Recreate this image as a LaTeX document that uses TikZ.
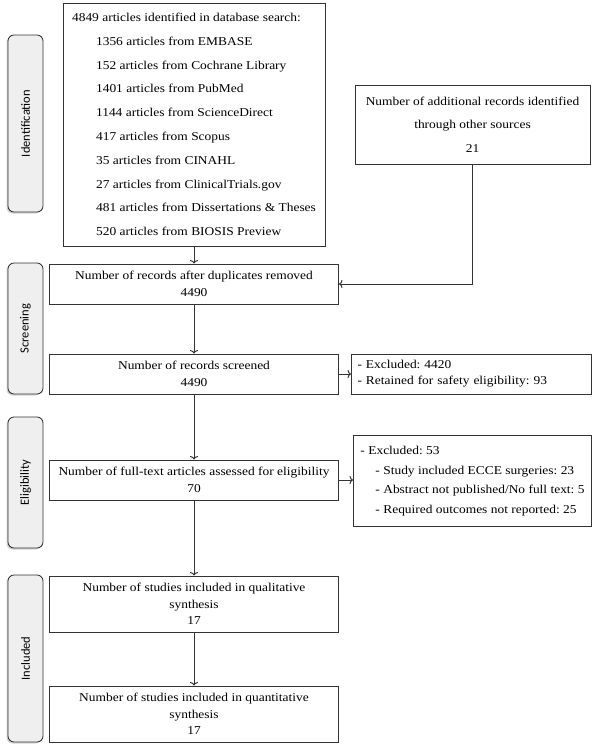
\documentclass[tikz,border=0pt]{standalone}
\usepackage{fontspec}
\setmainfont{Liberation Serif}[FakeStretch=1.12]
\newfontfamily\phasefont{Carlito}
\usetikzlibrary{arrows.meta,shadows}
\definecolor{linegray}{HTML}{333333}
\definecolor{tabgray}{HTML}{EFEFEF}
\frenchspacing

\begin{document}
\begin{tikzpicture}[->,>={To[length=3.5pt,width=8pt]},auto,x=1pt,y=1pt,node distance=90pt,
  line width=0.35mm,color=linegray,
  box/.style={draw,rectangle,text=black,inner sep=0pt,align=center,
    font=\fontsize{12}{16.5}\selectfont,minimum width=289pt,minimum height=40pt},
  sidebox/.style={draw,rectangle,text=black,inner xsep=6pt,align=left,
    font=\fontsize{12}{16}\selectfont},
  phase/.style={draw,rounded corners=6pt,fill=tabgray,rotate=90,text=black,
    minimum height=35pt,line width=0.3mm,font=\phasefont\fontsize{12.5}{14}\selectfont,
    drop shadow={shadow xshift=-1.5pt,shadow yshift=-1.5pt,opacity=0.35}}]
  \useasboundingbox (0,0) rectangle (600,-750);

  % phase tabs
  \node[phase,minimum width=177pt] (ident) at (25.5,-123.5) {Identification};
  \node[phase,minimum width=131pt] (screen) at (25.5,-328.5) {Screening};
  \node[phase,minimum width=131pt] (elig) at (25.5,-482.5) {Eligibility};
  \node[phase,minimum width=167pt] (incl) at (25.5,-658.5) {Included};

  % main column
  \node[draw,rectangle,text=black,align=left,inner xsep=9pt,minimum width=262pt,
    minimum height=243pt,font=\fontsize{12}{23.8}\selectfont] (src) at (194,-124.5)
    {4849 articles identified in database search:\\
     \hspace*{24pt}1356 articles from EMBASE\\
     \hspace*{24pt}152 articles from Cochrane Library\\
     \hspace*{24pt}1401 articles from PubMed\\
     \hspace*{24pt}1144 articles from ScienceDirect\\
     \hspace*{24pt}417 articles from Scopus\\
     \hspace*{24pt}35 articles from CINAHL\\
     \hspace*{24pt}27 articles from ClinicalTrials.gov\\
     \hspace*{24pt}481 articles from Dissertations \& Theses\\
     \hspace*{24pt}520 articles from BIOSIS Preview};
  \node[box] (dup) [below of=src,node distance=159.5pt]
    {Number of records after duplicates removed\\4490};
  \node[box] (scr) [below of=dup] {Number of records screened\\4490};
  \node[box] (full) [below of=scr,node distance=106pt]
    {Number of full-text articles assessed for eligibility\\70};
  \node[box,minimum height=56pt] (qual) [below of=full,node distance=124pt]
    {Number of studies included in qualitative\\synthesis\\17};
  \node[box,minimum height=56pt] (quant) [below of=qual,node distance=110pt]
    {Number of studies included in quantitative\\synthesis\\17};

  % side boxes
  \node[draw,rectangle,text=black,align=center,minimum width=235pt,minimum height=79pt,
    font=\fontsize{12}{23.5}\selectfont] (add) [right of=src,node distance=278.5pt]
    {Number of additional records identified\\through other sources\\21};
  \node[sidebox,text width=228pt,minimum height=40pt] (excl) [right of=scr,node distance=277.5pt]
    {- Excluded: 4420\\- Retained for safety eligibility: 93};
  \node[sidebox,minimum width=238pt,inner ysep=11pt,font=\fontsize{12}{19.5}\selectfont]
    (excl53) [right of=full,node distance=278.5pt,yshift=-1pt]
    {- Excluded: 53\\
     \hspace*{15pt}- Study included ECCE surgeries: 23\\
     \hspace*{15pt}- Abstract not published/No full text: 5\\
     \hspace*{15pt}- Required outcomes not reported: 25};

  \path (src)  edge (dup)
        (dup)  edge (scr)
        (scr)  edge (excl)
               edge (full)
        (full) edge (full -| excl53.west)
               edge (qual)
        (qual) edge (quant);
  \draw (add) |- (dup);
\end{tikzpicture}
\end{document}
